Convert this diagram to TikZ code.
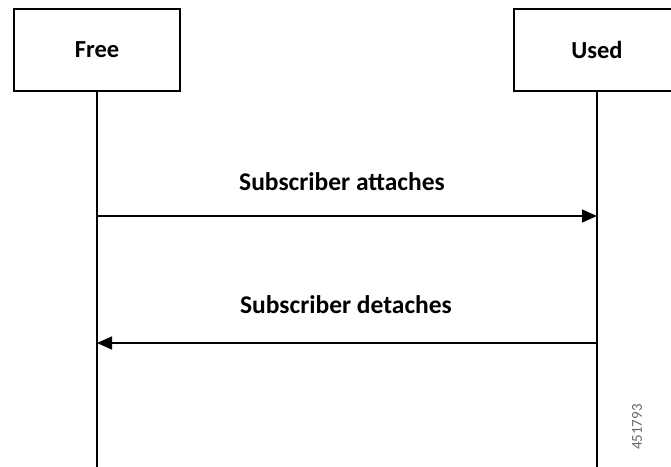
\documentclass[tikz,border=0pt]{standalone}
\usepackage{fontspec}
\setmainfont{Carlito}
\usetikzlibrary{arrows.meta}
\begin{document}
\begin{tikzpicture}[x=1pt,y=-1pt,
  state/.style={draw, line width=2.6pt, minimum width=166pt, minimum height=82pt,
    font=\bfseries\fontsize{24.5}{28}\selectfont},
  msg/.style={-{Triangle[length=15pt,width=13pt]}, line width=1.3pt},
  lbl/.style={font=\bfseries\fontsize{25.5}{30}\selectfont}]

\clip (0,0) rectangle (671,466);

\node [state] (free) at (97,50) {Free};
\node [state] (used) at (597,50) {Used};

\coordinate (freeend) at (97,470);
\coordinate (usedend) at (597,470);
\draw[line width=1.8pt] (free.south) -- (freeend);
\draw[line width=1.8pt] (used.south) -- (usedend);

\coordinate (attstart) at (97,216);
\coordinate (attend) at (597,216);
\draw[msg] (attstart) -- (attend);
\node [lbl] (attlbl) at (342,182) {Subscriber attaches};

\coordinate (detstart) at (597,343);
\coordinate (detend) at (97,343);
\draw[msg] (detstart) -- (detend);
\node [lbl] (detlbl) at (346,305) {Subscriber detaches};

\node [rotate=90, text=black!60, font=\fontsize{15}{18}\selectfont] (fignum) at (637,427) {451793};

\end{tikzpicture}
\end{document}
